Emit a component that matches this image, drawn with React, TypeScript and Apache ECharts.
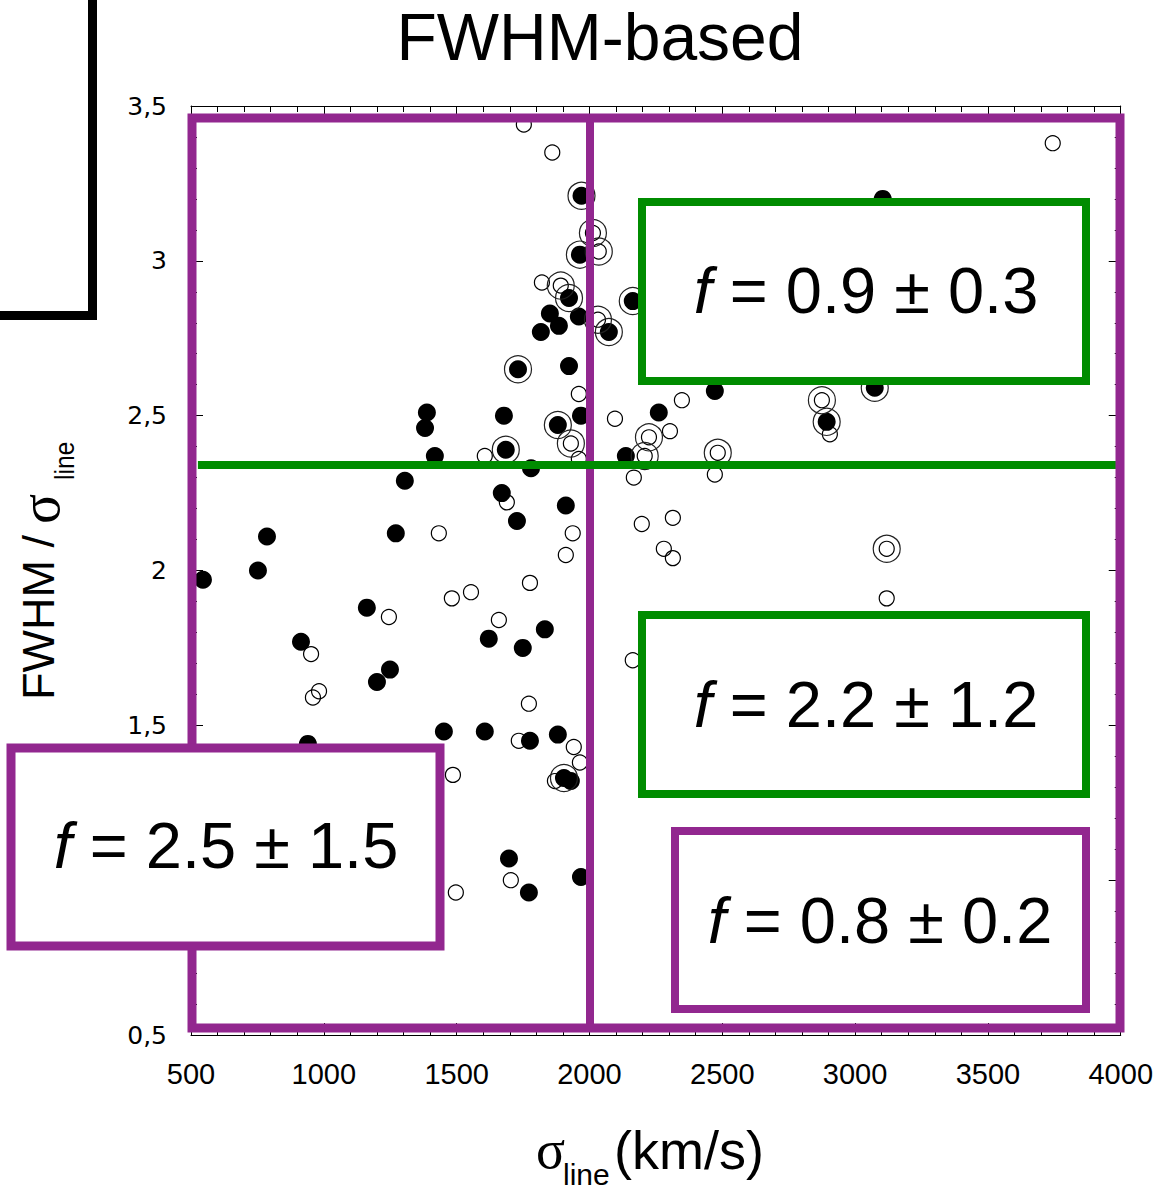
import React, { useEffect, useRef } from "react";
import * as echarts from "echarts";

// sigma_line (km/s), FWHM/sigma_line
const filledPoints: number[][] = [
  [1851, 2.83], [1960, 2.82], [1885, 2.79], [1817, 2.77], [1923, 2.66], [1968, 2.5],
  [1388, 2.51], [1381, 2.46], [1678, 2.5], [1780, 2.33], [1418, 2.37], [1305, 2.29],
  [1670, 2.25], [1911, 2.21], [1727, 2.16], [786, 2.11], [1271, 2.12], [752, 2.0],
  [545, 1.97], [1162, 1.88], [1832, 1.81], [1621, 1.78], [1749, 1.75], [914, 1.77],
  [1249, 1.68], [1200, 1.64], [1452, 1.48], [1606, 1.48], [1776, 1.45], [1881, 1.47],
  [1930, 1.32], [1697, 1.07], [1772, 0.96], [1968, 1.01], [940, 1.44], [3104, 3.2],
  [2472, 2.58], [2261, 2.51], [2137, 2.37],
];

const ringedFilledPoints: number[][] = [
  [1970, 3.21], [1964, 3.02], [1923, 2.88], [2073, 2.77], [1731, 2.65], [1881, 2.47],
  [1685, 2.39], [1904, 1.33], [2163, 2.87], [3074, 2.59], [2893, 2.48],
];

const openPoints: number[][] = [
  [1753, 3.44], [1860, 3.35], [1821, 2.93], [1960, 2.57], [1606, 2.37], [1960, 2.36],
  [1689, 2.22], [1433, 2.12], [1937, 2.12], [1911, 2.05], [1776, 1.96], [1482, 1.91],
  [1554, 1.93], [1245, 1.85], [1659, 1.84], [952, 1.73], [959, 1.59], [982, 1.61],
  [1772, 1.57], [1734, 1.45], [1941, 1.43], [1964, 1.38], [1870, 1.32], [1486, 1.34],
  [1704, 1.0], [1497, 0.96], [3744, 3.38], [2348, 2.55], [2096, 2.49], [2303, 2.45],
  [2472, 2.31], [2167, 2.3], [2905, 2.44], [2197, 2.15], [2314, 2.17], [2280, 2.07],
  [2314, 2.04], [3119, 1.91], [2163, 1.71],
];

const ringedOpenPoints: number[][] = [
  [2013, 3.09], [2035, 3.03], [1892, 2.92], [2032, 2.81], [1930, 2.41], [2224, 2.43],
  [2208, 2.37], [2483, 2.38], [2875, 2.55], [3119, 2.07],
];

const dividerX = 2000;
const dividerY = 2.34;

const boxLabels = ["0.9 ± 0.3", "2.2 ± 1.2", "0.8 ± 0.2", "2.5 ± 1.5"];

const PURPLE = "#92278F";
const GREEN = "#008C00";
const SANS = "'Liberation Sans', Arial, sans-serif";
const WIDE = "'DejaVu Sans', Verdana, sans-serif";
const SERIF = "'Liberation Serif', 'Times New Roman', serif";

export default function App() {
  const ref = useRef<HTMLDivElement>(null);

  useEffect(() => {
    const chart = echarts.init(ref.current!, null, { renderer: "svg" });

    const tickCommon = {
      axisLine: { show: true, lineStyle: { color: "#000", width: 1 } },
      axisTick: { show: true, inside: true, length: 12, lineStyle: { color: "#000", width: 1 } },
      minorTick: { show: true, splitNumber: 5, length: 6, lineStyle: { color: "#000", width: 1 } },
      splitLine: { show: false },
      minorSplitLine: { show: false },
    };

    const box = (x: number, y: number, w: number, h: number, color: string, lw: number) => ({
      type: "rect",
      z: 100,
      shape: { x, y, width: w, height: h },
      style: { fill: "#fff", stroke: color, lineWidth: lw },
    });

    const boxText = (cx: number, cy: number, label: string) => ({
      type: "text",
      z: 101,
      x: cx,
      y: cy,
      style: {
        text: "{i|f} = " + label,
        fill: "#000",
        fontFamily: SANS,
        fontSize: 65,
        align: "center",
        verticalAlign: "middle",
        rich: {
          i: { fontStyle: "italic", fontFamily: SANS, fontSize: 65, fill: "#000" },
        },
      },
    });

    const option = {
      animation: false,
      backgroundColor: "#fff",
      grid: { left: 191, top: 106, width: 931, height: 929, containLabel: false },
      xAxis: [
        {
          type: "value",
          min: 500,
          max: 4000,
          interval: 500,
          position: "bottom",
          ...tickCommon,
          axisLabel: {
            color: "#000",
            fontFamily: SANS,
            fontSize: 29,
            margin: 24,
            formatter: (v: number) => String(v),
          },
        },
        {
          type: "value",
          min: 500,
          max: 4000,
          interval: 500,
          position: "top",
          ...tickCommon,
          axisLabel: { show: false },
        },
      ],
      yAxis: [
        {
          type: "value",
          min: 0.5,
          max: 3.5,
          interval: 0.5,
          position: "left",
          ...tickCommon,
          axisLabel: {
            color: "#000",
            fontFamily: WIDE,
            fontSize: 25,
            margin: 24,
            formatter: (v: number) => String(v).replace(".", ","),
          },
        },
        {
          type: "value",
          min: 0.5,
          max: 3.5,
          interval: 0.5,
          position: "right",
          ...tickCommon,
          axisLabel: { show: false },
        },
      ],
      series: [
        {
          type: "scatter",
          name: "filled",
          symbol: "circle",
          symbolSize: 18,
          z: 2,
          itemStyle: { color: "#000", opacity: 1 },
          data: [...filledPoints, ...ringedFilledPoints],
        },
        {
          type: "scatter",
          name: "open",
          symbol: "circle",
          symbolSize: 15,
          z: 3,
          itemStyle: { color: "rgba(255,255,255,0)", borderColor: "#000", borderWidth: 1.2, opacity: 1 },
          data: [...openPoints, ...ringedOpenPoints],
        },
        {
          type: "scatter",
          name: "rings",
          symbol: "circle",
          symbolSize: 27,
          z: 3,
          itemStyle: { color: "rgba(255,255,255,0)", borderColor: "#222", borderWidth: 1.2, opacity: 1 },
          data: [...ringedFilledPoints, ...ringedOpenPoints],
        },
        {
          type: "line",
          name: "dividers",
          data: [],
          z: 10,
          silent: true,
          markLine: {
            silent: true,
            symbol: ["none", "none"],
            label: { show: false },
            animation: false,
            data: [
              [
                { coord: [dividerX, 3.462], lineStyle: { color: PURPLE, width: 8, type: "solid" } },
                { coord: [dividerX, 0.522] },
              ],
              [
                { coord: [526, dividerY], lineStyle: { color: GREEN, width: 8, type: "solid" } },
                { coord: [3982, dividerY] },
              ],
            ],
          },
        },
      ],
      graphic: [
        {
          type: "rect",
          z: 50,
          shape: { x: 192, y: 118, width: 928, height: 910 },
          style: { fill: "rgba(0,0,0,0)", stroke: PURPLE, lineWidth: 9 },
        },
        box(642, 202, 444, 179, GREEN, 8),
        box(642, 615, 444, 179, GREEN, 8),
        box(675, 831, 411, 178, PURPLE, 8),
        box(11, 748, 429, 198, PURPLE, 9),
        boxText(866, 290, boxLabels[0]),
        boxText(866, 704, boxLabels[1]),
        boxText(880, 920, boxLabels[2]),
        boxText(226, 845, boxLabels[3]),
        {
          type: "line",
          z: 100,
          shape: { x1: 92.5, y1: 0, x2: 92.5, y2: 320 },
          style: { stroke: "#000", lineWidth: 9 },
        },
        {
          type: "line",
          z: 100,
          shape: { x1: 0, y1: 315.5, x2: 97, y2: 315.5 },
          style: { stroke: "#000", lineWidth: 9 },
        },
        {
          type: "text",
          z: 100,
          x: 600,
          y: 37,
          style: {
            text: "FWHM-based",
            fill: "#000",
            fontFamily: SANS,
            fontSize: 66,
            align: "center",
            verticalAlign: "middle",
          },
        },
        // x-axis name
        {
          type: "text",
          z: 100,
          x: 536,
          y: 1150,
          style: { text: "σ", fill: "#000", fontFamily: SERIF, fontSize: 54, align: "left", verticalAlign: "middle" },
        },
        {
          type: "text",
          z: 100,
          x: 563,
          y: 1174,
          style: { text: "line", fill: "#000", fontFamily: SANS, fontSize: 30, align: "left", verticalAlign: "middle" },
        },
        {
          type: "text",
          z: 100,
          x: 614,
          y: 1150,
          style: { text: "(km/s)", fill: "#000", fontFamily: SANS, fontSize: 54, align: "left", verticalAlign: "middle" },
        },
        // y-axis name
        {
          type: "group",
          x: 38,
          y: 700,
          rotation: Math.PI / 2,
          children: [
            {
              type: "text",
              z: 100,
              x: 0,
              y: 0,
              style: { text: "FWHM /", fill: "#000", fontFamily: SANS, fontSize: 45, align: "left", verticalAlign: "middle" },
            },
            {
              type: "text",
              z: 100,
              x: 176,
              y: 2,
              style: { text: "σ", fill: "#000", fontFamily: SERIF, fontSize: 56, align: "left", verticalAlign: "middle" },
            },
            {
              type: "text",
              z: 100,
              x: 220,
              y: 26,
              scaleX: 0.88,
              style: { text: "line", fill: "#000", fontFamily: SANS, fontSize: 28, align: "left", verticalAlign: "middle" },
            },
          ],
        },
      ],
    };

    chart.setOption(option as any);
    return () => chart.dispose();
  }, []);

  return (
    <div
      ref={ref}
      style={{ position: "absolute", left: 0, top: 0, width: 1156, height: 1192, background: "#fff" }}
    />
  );
}
